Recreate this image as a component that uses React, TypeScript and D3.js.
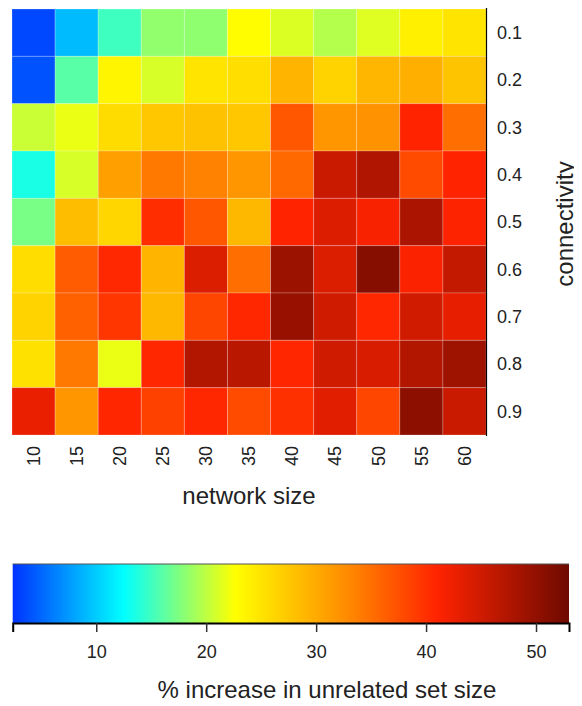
import { useRef, useEffect } from 'react';
import * as d3 from 'd3';

const WIDTH = 582;
const HEIGHT = 706;

const networkSizes = ['10', '15', '20', '25', '30', '35', '40', '45', '50', '55', '60'];
const connectivity = ['0.1', '0.2', '0.3', '0.4', '0.5', '0.6', '0.7', '0.8', '0.9'];

// % increase in unrelated set size, one row per connectivity level
const row01 = [3.5, 9.2, 15.0, 18.3, 18.2, 22.8, 21.2, 19.6, 21.3, 23.9, 25.0];
const row02 = [4.0, 16.0, 23.5, 21.0, 25.0, 25.5, 29.2, 26.5, 29.0, 29.6, 27.8];
const row03 = [20.5, 21.8, 25.7, 27.5, 28.0, 27.5, 37.0, 31.8, 32.2, 41.0, 35.1];
const row04 = [13.5, 21.0, 30.9, 34.3, 33.5, 31.8, 35.5, 45.5, 47.6, 37.8, 41.0];
const row05 = [17.3, 28.4, 26.2, 40.2, 37.0, 28.8, 41.0, 43.9, 41.5, 48.0, 41.2];
const row06 = [25.6, 36.6, 40.6, 29.2, 44.0, 35.1, 49.3, 44.0, 51.0, 41.3, 46.0];
const row07 = [26.5, 36.2, 39.5, 28.8, 38.2, 40.7, 49.5, 45.0, 40.7, 44.8, 43.0];
const row08 = [25.2, 34.3, 21.8, 40.7, 47.3, 46.8, 40.8, 45.0, 44.3, 47.3, 49.0];
const row09 = [42.7, 31.8, 40.8, 38.6, 40.7, 37.8, 40.0, 43.5, 38.2, 50.5, 45.5];
const rows = [row01, row02, row03, row04, row05, row06, row07, row08, row09];

const legendDomain = [2.4, 53];
const legendTicks = [10, 20, 30, 40, 50];

// colour ramp: blue -> cyan -> yellow -> orange -> red -> dark red
const rampValues = [2.4, 12.5, 22.6, 32.7, 41, 53];
const rampColors = ['#0032ff', '#00ffff', '#ffff00', '#ff8c00', '#ff2300', '#6e0a00'];

const FONT = '"Liberation Sans", Arial, Helvetica, sans-serif';
const TEXT = '#222';

const HeatmapChart = () => {
  const svgRef = useRef(null);

  useEffect(() => {
    const svg = d3.select(svgRef.current);
    svg.selectAll('*').remove();

    const color = d3.scaleLinear().domain(rampValues).range(rampColors).clamp(true);

    const x = d3.scaleBand().domain(networkSizes).range([12, 486]);
    const y = d3.scaleBand().domain(connectivity).range([9, 435]);

    // cells
    const cells = rows.flatMap((row, i) =>
      row.map((v, j) => ({ size: networkSizes[j], conn: connectivity[i], v }))
    );
    svg
      .append('g')
      .selectAll('rect')
      .data(cells)
      .join('rect')
      .attr('x', (d) => x(d.size))
      .attr('y', (d) => y(d.conn))
      .attr('width', x.bandwidth())
      .attr('height', y.bandwidth())
      .attr('fill', (d) => color(d.v))
      .attr('stroke', 'rgba(255,255,255,0.22)')
      .attr('stroke-width', 1);

    // right axis line
    svg
      .append('line')
      .attr('x1', 486.5)
      .attr('x2', 486.5)
      .attr('y1', 8)
      .attr('y2', 436)
      .attr('stroke', '#000')
      .attr('stroke-width', 1.2);

    // y labels
    svg
      .append('g')
      .selectAll('text')
      .data(connectivity)
      .join('text')
      .attr('x', 497)
      .attr('y', (d) => y(d) + y.bandwidth() / 2)
      .attr('dy', '0.35em')
      .attr('font-size', 18)
      .attr('font-family', FONT)
      .attr('fill', TEXT)
      .text((d) => d);

    svg
      .append('text')
      .attr('transform', `translate(573, 224) rotate(-90)`)
      .attr('text-anchor', 'middle')
      .attr('font-size', 24)
      .attr('font-family', FONT)
      .attr('fill', TEXT)
      .text('connectivity');

    // x labels (rotated)
    svg
      .append('g')
      .selectAll('text')
      .data(networkSizes)
      .join('text')
      .attr('transform', (d) => `translate(${x(d) + x.bandwidth() / 2}, 446) rotate(-90)`)
      .attr('text-anchor', 'end')
      .attr('dy', '0.35em')
      .attr('font-size', 18)
      .attr('font-family', FONT)
      .attr('fill', TEXT)
      .text((d) => d);

    svg
      .append('text')
      .attr('x', 249)
      .attr('y', 504)
      .attr('text-anchor', 'middle')
      .attr('font-size', 24)
      .attr('font-family', FONT)
      .attr('fill', TEXT)
      .text('network size');

    // colour bar
    const lx = d3.scaleLinear().domain(legendDomain).range([12.7, 569]);
    const defs = svg.append('defs');
    const grad = defs
      .append('linearGradient')
      .attr('id', 'legend-grad')
      .attr('x1', '0%')
      .attr('x2', '100%');
    const span = legendDomain[1] - legendDomain[0];
    rampValues.forEach((v, i) => {
      grad
        .append('stop')
        .attr('offset', `${((v - legendDomain[0]) / span) * 100}%`)
        .attr('stop-color', rampColors[i]);
    });

    svg
      .append('rect')
      .attr('x', lx(legendDomain[0]))
      .attr('y', 564)
      .attr('width', lx(legendDomain[1]) - lx(legendDomain[0]))
      .attr('height', 59)
      .attr('fill', 'url(#legend-grad)');

    svg
      .append('line')
      .attr('x1', lx(legendDomain[0]))
      .attr('x2', lx(legendDomain[1]))
      .attr('y1', 564)
      .attr('y2', 564)
      .attr('stroke', '#555')
      .attr('stroke-width', 1);

    const legendAxis = svg
      .append('g')
      .attr('transform', 'translate(0, 623)')
      .call(d3.axisBottom(lx).tickValues(legendTicks).tickSize(9).tickPadding(13));

    legendAxis.select('.domain').attr('stroke', '#000').attr('stroke-width', 2);
    legendAxis.selectAll('line').attr('stroke', '#333').attr('stroke-width', 1.5);
    legendAxis
      .selectAll('text')
      .attr('font-size', 18)
      .attr('font-family', FONT)
      .attr('fill', TEXT);

    svg
      .append('text')
      .attr('x', 327)
      .attr('y', 698)
      .attr('text-anchor', 'middle')
      .attr('font-size', 24)
      .attr('font-family', FONT)
      .attr('fill', TEXT)
      .text('% increase in unrelated set size');
  }, []);

  return <svg ref={svgRef} width={WIDTH} height={HEIGHT} style={{ display: 'block' }} />;
};

export default function App() {
  return (
    <div style={{ margin: -8 }}>
      <HeatmapChart />
    </div>
  );
}
